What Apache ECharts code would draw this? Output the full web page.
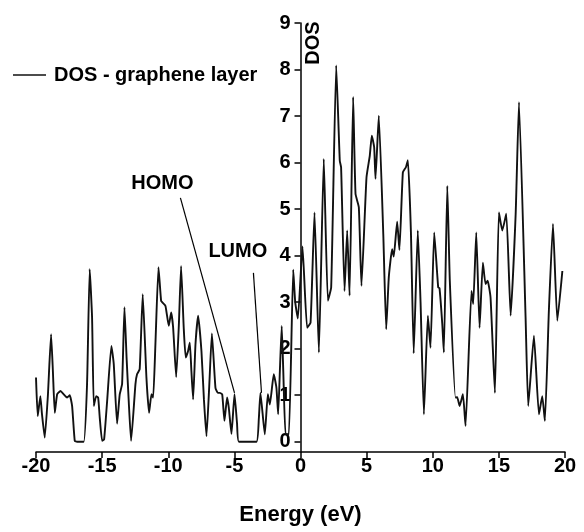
<!DOCTYPE html>
<html>
<head>
<meta charset="utf-8">
<script src="https://cdn.jsdelivr.net/npm/echarts@6/dist/echarts.min.js"></script>
<style>
    html, body { margin: 0; padding: 0; background: #fff; }
    #chart { width: 584px; height: 532px; }
</style>
</head>
<body>
<div id="chart"></div>
<script>
// energy (eV) and DOS
const energy = [
    -20.0, -19.87, -19.67, -19.55, -19.34, -19.1, -18.86, -18.72, -18.58, -18.4,
    -18.15, -17.9, -17.65, -17.45, -17.27, -17.07, -16.9, -16.39, -16.14, -15.94,
    -15.76, -15.63, -15.45, -15.3, -15.18, -15.0, -14.85, -14.62, -14.3, -14.12,
    -13.87, -13.67, -13.49, -13.31, -13.15, -12.99, -12.81, -12.48, -12.36, -12.16,
    -11.93, -11.65, -11.45, -11.27, -11.14, -10.97, -10.74, -10.54, -10.43, -10.21,
    -9.96, -9.78, -9.63, -9.4, -9.2, -9.03, -8.83, -8.68, -8.5, -8.37,
    -8.25, -8.12, -7.94, -7.74, -7.49, -7.3, -7.11, -6.9, -6.7, -6.43,
    -6.25, -6.1, -5.92, -5.75, -5.55, -5.42, -5.22, -4.99, -4.8, -4.66,
    -3.33, -3.15, -3.03, -2.7, -2.47, -2.32, -2.02, -1.82, -1.69, -1.55,
    -1.42, -1.3, -1.13, -0.88, -0.55, -0.4, -0.2, 0.15, 0.5, 0.76,
    1.06, 1.39, 1.76, 2.07, 2.32, 2.7, 2.97, 3.07, 3.33, 3.53,
    3.71, 3.98, 4.16, 4.41, 4.61, 4.99, 5.24, 5.39, 5.57, 5.67,
    5.92, 6.26, 6.48, 6.68, 6.93, 7.05, 7.31, 7.48, 7.74, 7.97,
    8.12, 8.35, 8.56, 8.87, 9.08, 9.33, 9.63, 9.83, 10.11, 10.41,
    10.51, 10.72, 10.84, 11.1, 11.29, 11.72, 11.85, 12.03, 12.28, 12.48,
    12.93, 13.06, 13.29, 13.54, 13.79, 13.99, 14.15, 14.37, 14.7, 15.0,
    15.26, 15.56, 15.89, 16.27, 16.52, 17.02, 17.22, 17.65, 18.03, 18.28,
    18.48, 18.78, 19.09, 19.42, 19.8
];
const dos = [
    1.38, 0.55, 0.98, 0.6, 0.09, 1.0, 2.31, 1.5, 0.62, 1.02,
    1.09, 1.02, 0.95, 1.0, 0.77, 0.02, 0, 0, 1.24, 3.71,
    2.67, 0.77, 0.98, 0.95, 0.52, 0.02, 0.05, 0.88, 2.06, 1.67,
    0.39, 1.02, 1.24, 2.89, 1.8, 0.88, 0.02, 1.24, 1.45, 1.56,
    3.17, 1.38, 0.62, 1.02, 0.95, 2.1, 3.75, 3.03, 2.99, 2.92,
    2.49, 2.78, 2.45, 1.39, 2.5, 3.78, 2.45, 1.81, 1.95, 2.13,
    1.52, 0.91, 2.1, 2.71, 1.95, 0.9, 0.12, 1.2, 2.33, 1.16,
    1.05, 1.05, 1.02, 0.45, 0.95, 0.73, 0.17, 1.02, 0.4, 0,
    0, 0.5, 1.05, 0.16, 1.02, 0.8, 1.45, 1.16, 0.59, 1.6,
    2.49, 1.5, 0.16, 0.16, 3.7, 3.0, 2.65, 4.2, 2.45, 2.56,
    4.93, 1.92, 6.08, 3.03, 3.32, 8.09, 6.04, 5.9, 3.24, 4.54,
    3.14, 7.41, 5.33, 5.04, 3.35, 5.68, 6.15, 6.58, 6.33, 5.65,
    7.01, 4.46, 2.42, 3.55, 4.14, 3.98, 4.73, 4.12, 5.79, 5.9,
    6.05, 4.5, 1.9, 4.54, 2.98, 0.59, 2.71, 2.02, 4.5, 3.32,
    3.3, 2.53, 1.92, 5.5, 3.46, 0.95, 0.96, 0.77, 1.02, 0.34,
    3.24, 2.96, 4.5, 2.45, 3.85, 3.39, 3.46, 3.1, 1.05, 4.93,
    4.54, 4.9, 2.71, 4.9, 7.3, 2.67, 0.77, 2.28, 0.59, 0.98,
    0.45, 2.81, 4.68, 2.6, 3.67
];
const yTicks = [0, 1, 2, 3, 4, 5, 6, 7, 8, 9];

// annotations (data units)
const homoLine = [[-9.08, 5.24], [-4.99, 1.05]];
const lumoLine = [[-3.56, 3.63], [-2.95, 1.05]];
const homoLabel = [-10.44, 5.55];
const lumoLabel = [-4.74, 4.1];

const FONT = '"Liberation Sans", Arial, Helvetica, sans-serif';

const GRID_LEFT = 36;
const GRID_RIGHT = 19;
const plotWidth = 584 - GRID_LEFT - GRID_RIGHT;

const chart = echarts.init(document.getElementById('chart'));

const option = {
    animation: false,
    backgroundColor: '#fff',
    grid: { left: GRID_LEFT, right: GRID_RIGHT, top: 23, bottom: 80, containLabel: false },
    legend: {
        data: [{ name: 'DOS - graphene layer', icon: 'rect' }],
        left: 8,
        top: 60,
        itemWidth: 33,
        itemHeight: 1.5,
        itemGap: 0,
        itemStyle: { color: '#111', borderWidth: 0 },
        textStyle: { fontFamily: FONT, fontWeight: 'bold', fontSize: 20, color: '#000', padding: [0, 0, 0, 3] }
    },
    xAxis: {
        type: 'value',
        min: -20,
        max: 20,
        interval: 5,
        name: 'Energy (eV)',
        nameLocation: 'middle',
        nameGap: 52,
        nameTextStyle: { fontFamily: FONT, fontWeight: 'bold', fontSize: 22, color: '#000' },
        axisLine: { show: true, onZero: false, lineStyle: { color: '#000', width: 1.5 } },
        axisTick: { show: true, length: 6, lineStyle: { color: '#000', width: 1.5 } },
        axisLabel: { fontFamily: FONT, fontWeight: 'bold', fontSize: 20, color: '#000', margin: 4 },
        splitLine: { show: false }
    },
    yAxis: {
        type: 'value',
        min: -0.22,
        max: 9,
        position: 'left',
        // shift the whole axis (line, ticks, labels) onto energy = 0
        offset: -plotWidth / 2,
        axisLine: { show: true, onZero: false, lineStyle: { color: '#000', width: 1.5 } },
        axisTick: { show: true, length: 6, customValues: yTicks, lineStyle: { color: '#000', width: 1.5 } },
        axisLabel: { fontFamily: FONT, fontWeight: 'bold', fontSize: 20, color: '#000', margin: 10, customValues: yTicks },
        splitLine: { show: false }
    },
    graphic: [
        {
            type: 'text',
            x: 313,
            y: 43,
            rotation: Math.PI / 2,
            style: {
                text: 'DOS',
                font: 'bold 20px ' + FONT,
                fill: '#000',
                align: 'center',
                verticalAlign: 'middle'
            }
        }
    ],
    series: [
        {
            name: 'DOS - graphene layer',
            type: 'line',
            data: energy.map((e, i) => [e, dos[i]]),
            symbol: 'none',
            smooth: 0.15,
            lineStyle: { color: '#111', width: 1.9 },
            itemStyle: { color: '#111' },
            markLine: {
                silent: true,
                symbol: ['none', 'none'],
                label: { show: false },
                lineStyle: { color: '#000', width: 1.2, type: 'solid' },
                data: [
                    [{ coord: homoLine[0] }, { coord: homoLine[1] }],
                    [{ coord: lumoLine[0] }, { coord: lumoLine[1] }]
                ]
            },
            markPoint: {
                silent: true,
                symbol: 'circle',
                symbolSize: 1,
                itemStyle: { color: 'rgba(0,0,0,0)' },
                label: {
                    show: true,
                    position: 'inside',
                    formatter: '{b}',
                    fontFamily: FONT,
                    fontWeight: 'bold',
                    fontSize: 20,
                    color: '#000'
                },
                data: [
                    { name: 'HOMO', coord: homoLabel },
                    { name: 'LUMO', coord: lumoLabel }
                ]
            }
        }
    ]
};

chart.setOption(option);
</script>
</body>
</html>
